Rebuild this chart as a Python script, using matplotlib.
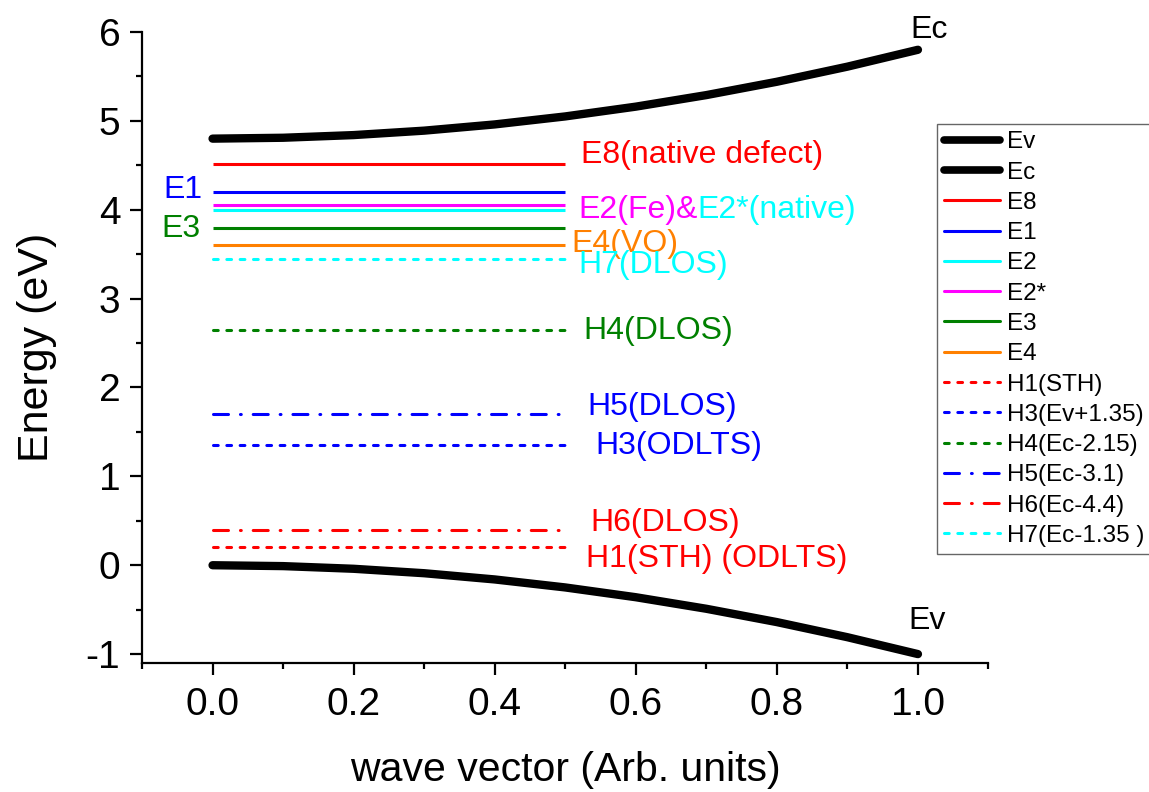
import matplotlib
matplotlib.use("Agg")
import matplotlib.pyplot as plt
from matplotlib.lines import Line2D

plt.rcParams['font.family'] = ['Liberation Sans', 'DejaVu Sans']
plt.rcParams['axes.unicode_minus'] = False
plt.rcParams['lines.scale_dashes'] = False

# Band edges sampled along the wave vector
k = [0.0, 0.1, 0.2, 0.3, 0.4, 0.5, 0.6, 0.7, 0.8, 0.9, 1.0]
ec = [4.80, 4.81, 4.84, 4.89, 4.96, 5.05, 5.16, 5.29, 5.44, 5.61, 5.80]
ev = [0.00, -0.01, -0.04, -0.09, -0.16, -0.25, -0.36, -0.49, -0.64, -0.81, -1.00]

# Defect levels (eV), drawn over the first half of the wave-vector range
level_k = [0.0, 0.5]
level_names = ['E8', 'E1', 'E2', 'E2*', 'E3', 'E4',
               'H1(STH)', 'H3(Ev+1.35)', 'H4(Ec-2.15)', 'H5(Ec-3.1)',
               'H6(Ec-4.4)', 'H7(Ec-1.35 )']
level_energy = [4.52, 4.20, 4.00, 4.05, 3.80, 3.60,
                0.20, 1.35, 2.65, 1.70, 0.40, 3.45]
level_color = ['#FF0000', '#0000FF', '#00FFFF', '#FF00FF', '#008000', '#FF8000',
               '#FF0000', '#0000FF', '#008000', '#0000FF', '#FF0000', '#00FFFF']
level_style = ['solid'] * 6 + ['dash', 'dash', 'dash', 'dashdot', 'dashdot', 'dash']

dash_pattern = (3.4, 6.2)
dashdot_pattern = (10.8, 8.6, 0.6, 8.6)

fig = plt.figure(figsize=(11.49, 7.92), dpi=100)
ax = fig.add_axes([0.1236, 0.1629, 0.8603 - 0.1236, 0.9596 - 0.1629])

ax.plot(k, ev, color='black', lw=6, solid_capstyle='round', label='Ev', zorder=3)
ax.plot(k, ec, color='black', lw=6, solid_capstyle='round', label='Ec', zorder=3)

lw_level = 2.2
for name, e, c, st in zip(level_names, level_energy, level_color, level_style):
    y = [e, e]
    if st == 'solid':
        ax.plot(level_k, y, color=c, lw=lw_level, solid_capstyle='butt', label=name)
    elif st == 'dash':
        ax.plot(level_k, y, color=c, lw=lw_level, dashes=dash_pattern,
                dash_capstyle='round', label=name)
    else:
        ax.plot(level_k, y, color=c, lw=lw_level, dashes=dashdot_pattern,
                dash_capstyle='round', label=name)

ax.set_xlim(-0.1, 1.1)
ax.set_ylim(-1.1, 6.0)
ax.set_xticks([0.0, 0.2, 0.4, 0.6, 0.8, 1.0])
ax.set_xticks([-0.1, 0.1, 0.3, 0.5, 0.7, 0.9, 1.1], minor=True)
ax.set_yticks([-1, 0, 1, 2, 3, 4, 5, 6])
ax.set_yticks([-0.5, 0.5, 1.5, 2.5, 3.5, 4.5, 5.5], minor=True)
ax.set_xticklabels(['0.0', '0.2', '0.4', '0.6', '0.8', '1.0'])
ax.set_yticklabels(['-1', '0', '1', '2', '3', '4', '5', '6'])

# Level annotations
fs = 23
ax.text(0.522, 4.62, 'E8(native defect)', color='#FF0000', fontsize=fs, va='center', ha='left')
ax.text(-0.014, 4.22, 'E1', color='#0000FF', fontsize=fs, va='center', ha='right')
ax.text(-0.017, 3.78, 'E3', color='#008000', fontsize=fs, va='center', ha='right')
t_fe = ax.text(0.518, 4.00, 'E2(Fe)&', color='#FF00FF', fontsize=fs, va='center', ha='left')
ax.text(0.509, 3.62, 'E4(VO)', color='#FF8000', fontsize=fs, va='center', ha='left')
ax.text(0.518, 3.38, 'H7(DLOS)', color='#00FFFF', fontsize=fs, va='center', ha='left')
ax.text(0.525, 2.64, 'H4(DLOS)', color='#008000', fontsize=fs, va='center', ha='left')
ax.text(0.532, 1.78, 'H5(DLOS)', color='#0000FF', fontsize=fs, va='center', ha='left')
ax.text(0.543, 1.34, 'H3(ODLTS)', color='#0000FF', fontsize=fs, va='center', ha='left')
ax.text(0.535, 0.48, 'H6(DLOS)', color='#FF0000', fontsize=fs, va='center', ha='left')
ax.text(0.529, 0.07, 'H1(STH) (ODLTS)', color='#FF0000', fontsize=fs, va='center', ha='left')
ax.text(0.989, 6.02, 'Ec', color='black', fontsize=fs, va='center', ha='left', clip_on=False)
ax.text(0.986, -0.63, 'Ev', color='black', fontsize=fs, va='center', ha='left')

# Second half of the two-coloured E2 label follows the first one
fig.canvas.draw()
bb = t_fe.get_window_extent()
x_next = ax.transData.inverted().transform((bb.x1, 0))[0]
ax.text(x_next, 4.00, 'E2*(native)', color='#00FFFF', fontsize=fs, va='center', ha='left')

for side in ('top', 'right'):
    ax.spines[side].set_visible(False)
for side in ('left', 'bottom'):
    ax.spines[side].set_linewidth(1.6)
ax.tick_params(which='major', direction='out', length=8.6, width=1.6, labelsize=28)
ax.tick_params(axis='y', which='major', pad=7)
ax.tick_params(axis='x', which='major', pad=8.5)
ax.tick_params(which='minor', direction='out', length=4.3, width=1.6)

ax.set_xlabel('wave vector (Arb. units)', fontsize=29.5, labelpad=20)
ax.set_ylabel('Energy (eV)', fontsize=31, labelpad=21)

handles = [Line2D([], [], color='black', lw=5.5, solid_capstyle='round'),
           Line2D([], [], color='black', lw=5.5, solid_capstyle='round')]
for c, st in zip(level_color, level_style):
    if st == 'solid':
        handles.append(Line2D([], [], color=c, lw=lw_level, solid_capstyle='round'))
    elif st == 'dash':
        handles.append(Line2D([], [], color=c, lw=lw_level, dashes=dash_pattern,
                              dash_capstyle='round'))
    else:
        handles.append(Line2D([], [], color=c, lw=lw_level, dashes=dashdot_pattern,
                              dash_capstyle='round'))
labels = ['Ev', 'Ec'] + level_names

leg = fig.legend(handles, labels, loc='upper left',
                 bbox_to_anchor=(937 / 1149, 1 - 124 / 792),
                 bbox_transform=fig.transFigure,
                 fontsize=17.5, frameon=True, fancybox=False, shadow=False,
                 borderpad=0.3, labelspacing=0.34, handlelength=2.3,
                 handletextpad=0.3, borderaxespad=0)
leg.get_frame().set_edgecolor('#404040')
leg.get_frame().set_linewidth(1.0)

fig.savefig('out.png', dpi=100)
